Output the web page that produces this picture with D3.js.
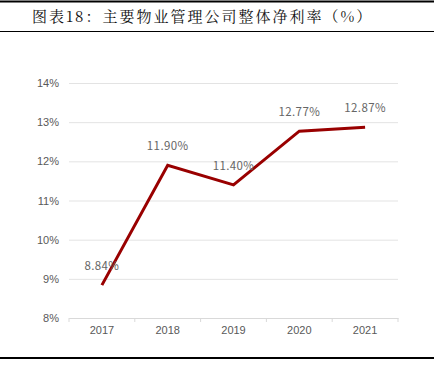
<!DOCTYPE html>
<html lang="zh">
<head>
<meta charset="UTF-8">
<title>主要物业管理公司整体净利率</title>
<script src="https://d3js.org/d3.v7.min.js"></script>
<style>
  body { margin: 0; background: #fff; }
  .grid line { stroke: #e3e3e3; stroke-width: 1px; }
  .tick text { fill: #595959; font-size: 11px; font-family: "Liberation Sans", Arial, sans-serif; }
  .line { fill: none; stroke: #990000; stroke-width: 3px; stroke-linejoin: miter; }
  .label { fill: #666; font-size: 11.5px; font-family: "Noto Sans CJK SC", sans-serif; letter-spacing: 0.4px; }
</style>
</head>
<body>
<div id="chart"></div>
<script>
var years = ["2017", "2018", "2019", "2020", "2021"];
var margins = [8.84, 11.90, 11.40, 12.77, 12.87];
var yTicks = [8, 9, 10, 11, 12, 13, 14];

var width = 434, height = 380;
var plot = { left: 69, right: 398, top: 83, bottom: 318 };

var svg = d3.select("#chart").append("svg")
    .attr("width", width)
    .attr("height", height);

// frame lines
svg.append("line").attr("x1", 0).attr("x2", width).attr("y1", 1.5).attr("y2", 1.5)
    .attr("stroke", "#000").attr("stroke-width", 2);
svg.append("line").attr("x1", 0).attr("x2", width).attr("y1", 31.5).attr("y2", 31.5)
    .attr("stroke", "#000").attr("stroke-width", 1);
svg.append("line").attr("x1", 0).attr("x2", width).attr("y1", 358).attr("y2", 358)
    .attr("stroke", "#000").attr("stroke-width", 2);

svg.append("text")
    .attr("x", 32).attr("y", 22)
    .attr("font-family", "'Noto Serif CJK SC', 'Noto Sans CJK SC', serif")
    .attr("font-size", 15)
    .attr("letter-spacing", "2px")
    .attr("fill", "#111")
    .text("图表18：主要物业管理公司整体净利率（%）");

var x = d3.scaleBand().domain(years).range([plot.left, plot.right]);
var y = d3.scaleLinear().domain([8, 14]).range([plot.bottom, plot.top]);

// gridlines + y labels
var yAxis = svg.append("g")
    .attr("class", "grid")
    .attr("transform", `translate(${plot.left},0)`)
    .call(d3.axisLeft(y).tickValues(yTicks)
        .tickSize(-(plot.right - plot.left))
        .tickPadding(10)
        .tickFormat(d => d + "%"));
yAxis.select(".domain").remove();
yAxis.selectAll(".tick line").attr("stroke", "#e3e3e3");

// x axis
var xAxis = svg.append("g")
    .attr("transform", `translate(0,${plot.bottom})`)
    .call(d3.axisBottom(x).tickSize(0).tickPadding(8));
xAxis.select(".domain").attr("stroke", "#d9d9d9");
xAxis.selectAll(".tick line").remove();
xAxis.selectAll(".boundary")
    .data(d3.range(years.length + 1))
    .enter().append("line")
    .attr("x1", i => plot.left + i * x.step())
    .attr("x2", i => plot.left + i * x.step())
    .attr("y1", 0).attr("y2", 4)
    .attr("stroke", "#d9d9d9");

var data = years.map((d, i) => ({ year: d, value: margins[i] }));

var line = d3.line()
    .x(d => x(d.year) + x.bandwidth() / 2)
    .y(d => y(d.value));

svg.append("path")
    .datum(data)
    .attr("class", "line")
    .attr("d", line);

svg.selectAll(".label")
    .data(data)
    .enter().append("text")
    .attr("class", "label")
    .attr("x", d => x(d.year) + x.bandwidth() / 2)
    .attr("y", d => y(d.value) - 15)
    .attr("text-anchor", "middle")
    .text(d => d.value.toFixed(2) + "%");
</script>
</body>
</html>
